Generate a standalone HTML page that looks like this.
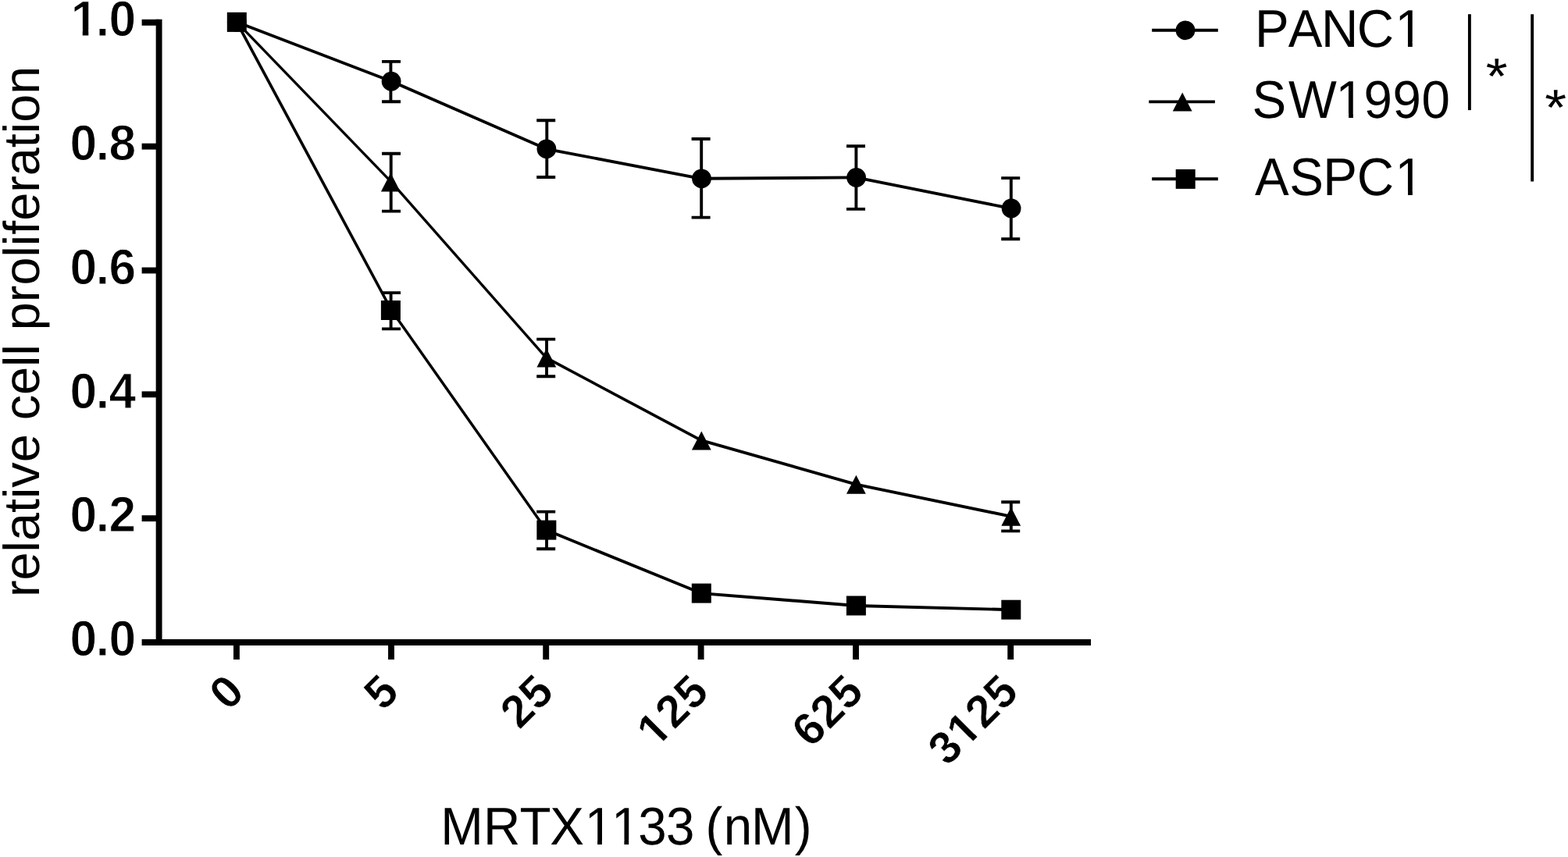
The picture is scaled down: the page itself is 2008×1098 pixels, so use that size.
<!DOCTYPE html>
<html lang="en"><head><meta charset="utf-8"><title>MRTX1133 relative cell proliferation</title>
<style>
html,body{margin:0;padding:0;background:#fff;}
body{width:2008px;height:1098px;overflow:hidden;}
svg{display:block;}
text{font-family:"Liberation Sans",sans-serif;fill:#000;font-kerning:none;font-variant-ligatures:none;white-space:pre;text-rendering:geometricPrecision;}
.tk{font-weight:bold;stroke:#fff;stroke-width:1px;stroke-linejoin:round;}
.tx{font-weight:bold;stroke:#fff;stroke-width:0.6px;stroke-linejoin:round;}
.lb{font-weight:normal;}
</style></head><body>
<svg width="2008" height="1098" viewBox="0 0 2008 1098" role="img" aria-label="Relative cell proliferation versus MRTX1133 concentration">
<rect width="2008" height="1098" fill="#fff"/>

<g stroke="#000" stroke-width="7.9" fill="none" stroke-linecap="butt">
<line x1="203.6" y1="24.85" x2="203.6" y2="826.95"/>
<line x1="181.6" y1="823.0" x2="1397" y2="823.0"/>
<line x1="181.6" y1="28.80" x2="203.6" y2="28.80"/>
<line x1="181.6" y1="187.64" x2="203.6" y2="187.64"/>
<line x1="181.6" y1="346.48" x2="203.6" y2="346.48"/>
<line x1="181.6" y1="505.32" x2="203.6" y2="505.32"/>
<line x1="181.6" y1="664.16" x2="203.6" y2="664.16"/>
<line x1="302.9" y1="823.0" x2="302.9" y2="845"/>
<line x1="501.0" y1="823.0" x2="501.0" y2="845"/>
<line x1="699.2" y1="823.0" x2="699.2" y2="845"/>
<line x1="897.6" y1="823.0" x2="897.6" y2="845"/>
<line x1="1096.0" y1="823.0" x2="1096.0" y2="845"/>
<line x1="1294.2" y1="823.0" x2="1294.2" y2="845"/>
</g>
<g transform="translate(172.80,46.00) scale(1,1.03)"><text class="tk" x="-82.11 -50.04 -33.37" y="0" style="font-size:62.3px">1.0</text><g fill="#fff"><rect x="-79.68" y="-7.06" width="12.62" height="8.56"/><rect x="-59.52" y="-7.06" width="11.83" height="8.56"/></g></g>
<g transform="translate(172.80,204.84) scale(1,1.03)"><text class="tk" x="-83.41 -50.04 -33.37" y="0" style="font-size:62.3px">0.8</text></g>
<g transform="translate(172.80,363.68) scale(1,1.03)"><text class="tk" x="-83.41 -50.04 -33.37" y="0" style="font-size:62.3px">0.6</text></g>
<g transform="translate(172.80,522.52) scale(1,1.03)"><text class="tk" x="-83.41 -50.04 -33.37" y="0" style="font-size:62.3px">0.4</text></g>
<g transform="translate(172.80,681.36) scale(1,1.03)"><text class="tk" x="-83.41 -50.04 -33.37" y="0" style="font-size:62.3px">0.2</text></g>
<g transform="translate(172.80,840.20) scale(1,1.03)"><text class="tk" x="-83.41 -50.04 -33.37" y="0" style="font-size:62.3px">0.0</text></g>
<g transform="translate(316.10,888.60) rotate(-45)"><text class="tx" x="-33.37" y="0" style="font-size:58.4px">0</text></g>
<g transform="translate(514.20,888.60) rotate(-45)"><text class="tx" x="-33.37" y="0" style="font-size:58.4px">5</text></g>
<g transform="translate(712.40,888.60) rotate(-45)"><text class="tx" x="-66.74 -33.37" y="0" style="font-size:58.4px">25</text></g>
<g transform="translate(910.80,888.60) rotate(-45)"><text class="tx" x="-100.11 -66.74 -33.37" y="0" style="font-size:58.4px">125</text><g fill="#fff"><rect x="-97.93" y="-6.66" width="11.75" height="8.16"/><rect x="-78.76" y="-6.66" width="11.01" height="8.16"/></g></g>
<g transform="translate(1109.20,888.60) rotate(-45)"><text class="tx" x="-100.11 -66.74 -33.37" y="0" style="font-size:58.4px">625</text></g>
<g transform="translate(1307.40,888.60) rotate(-45)"><text class="tx" x="-133.48 -100.11 -66.74 -33.37" y="0" style="font-size:58.4px">3125</text><g fill="#fff"><rect x="-97.93" y="-6.66" width="11.75" height="8.16"/><rect x="-78.76" y="-6.66" width="11.01" height="8.16"/></g></g>
<g transform="translate(564.22,1082.00) scale(1,1.04)"><text class="lb" x="0.00 54.81 101.19 140.14 184.42 218.72 253.01 288.76 324.09 339.24 362.52 397.90 453.51" y="0" style="font-size:65.5px">MRTX1133 (nM)</text><g fill="#fff"><rect x="187.90" y="-5.59" width="12.98" height="7.09"/><rect x="206.68" y="-5.59" width="12.47" height="7.09"/><rect x="222.20" y="-5.59" width="12.98" height="7.09"/><rect x="240.98" y="-5.59" width="12.47" height="7.09"/></g></g>
<g transform="translate(50.00,765.00) rotate(-90)"><text class="lb" x="0.00 21.56 57.57 71.96 107.97 125.96 140.34 172.72 208.73 226.72 259.09 295.11 309.49 323.88 341.87 377.88 399.44 435.45 449.84 464.22 482.21 518.22 539.78 575.79 593.78 608.17 644.18" y="0" style="font-size:64.75px">relative cell proliferation</text></g>
<g stroke="#000" stroke-width="3.9" fill="none">
<line x1="303.20" y1="28.30" x2="501.30" y2="104.20" stroke-width="3.76"/>
<line x1="501.30" y1="104.20" x2="699.50" y2="190.80" stroke-width="3.72"/>
<line x1="699.50" y1="190.80" x2="897.90" y2="228.80" stroke-width="3.86"/>
<line x1="897.90" y1="228.80" x2="1096.30" y2="227.40" stroke-width="3.90"/>
<line x1="1096.30" y1="227.40" x2="1294.50" y2="267.00" stroke-width="3.86"/>
<path d="M500.40,78.9V130.2M489.00,78.9H513.00M489.00,130.2H513.00"/>
<path d="M700.30,154.25V227.0M687.20,154.25H711.20M687.20,227.0H711.20"/>
<path d="M898.20,178.0V278.6M885.60,178.0H909.60M885.60,278.6H909.60"/>
<path d="M1096.40,187.2V267.9M1084.00,187.2H1108.00M1084.00,267.9H1108.00"/>
<path d="M1294.80,228.15V306.2M1282.20,228.15H1306.20M1282.20,306.2H1306.20"/>
</g><g fill="#000">
<circle cx="303.30" cy="28.30" r="12.4"/>
<circle cx="501.10" cy="104.20" r="12.4"/>
<circle cx="699.90" cy="190.80" r="12.4"/>
<circle cx="898.50" cy="228.80" r="12.4"/>
<circle cx="1096.60" cy="227.40" r="12.4"/>
<circle cx="1295.10" cy="267.00" r="12.4"/>
</g>
<g stroke="#000" stroke-width="3.9" fill="none">
<line x1="303.20" y1="28.30" x2="501.30" y2="233.40" stroke-width="3.30"/>
<line x1="501.30" y1="233.40" x2="699.50" y2="458.40" stroke-width="3.36"/>
<line x1="699.50" y1="458.40" x2="897.90" y2="564.20" stroke-width="3.65"/>
<line x1="897.90" y1="564.20" x2="1096.30" y2="620.60" stroke-width="3.82"/>
<line x1="1096.30" y1="620.60" x2="1294.50" y2="661.60" stroke-width="3.86"/>
<path d="M500.70,196.8V270.6M489.00,196.8H513.00M489.00,270.6H513.00"/>
<path d="M700.05,434.6V482.2M687.20,434.6H711.20M687.20,482.2H711.20"/>
<path d="M1294.80,643.2V680.4M1282.20,643.2H1306.20M1282.20,680.4H1306.20"/>
</g><g fill="#000">
<polygon points="303.30,16.50 315.70,40.50 290.90,40.50"/>
<polygon points="500.30,221.60 512.70,245.60 487.90,245.60"/>
<polygon points="699.85,446.60 712.25,470.60 687.45,470.60"/>
<polygon points="898.30,552.40 910.70,576.40 885.90,576.40"/>
<polygon points="1096.40,608.80 1108.80,632.80 1084.00,632.80"/>
<polygon points="1294.75,649.80 1307.15,673.80 1282.35,673.80"/>
</g>
<g stroke="#000" stroke-width="3.9" fill="none">
<line x1="303.20" y1="28.30" x2="501.30" y2="397.50" stroke-width="3.65"/>
<line x1="501.30" y1="397.50" x2="699.50" y2="679.10" stroke-width="3.51"/>
<line x1="699.50" y1="679.10" x2="897.90" y2="760.10" stroke-width="3.74"/>
<line x1="897.90" y1="760.10" x2="1096.30" y2="776.00" stroke-width="3.89"/>
<line x1="1096.30" y1="776.00" x2="1294.50" y2="781.20" stroke-width="3.90"/>
<path d="M500.60,375.1V421.4M489.00,375.1H513.00M489.00,421.4H513.00"/>
<path d="M700.05,655.65V703.25M687.20,655.65H711.20M687.20,703.25H711.20"/>
</g><g fill="#000">
<rect x="290.80" y="15.80" width="25" height="25"/>
<rect x="487.90" y="385.00" width="25" height="25"/>
<rect x="687.35" y="666.60" width="25" height="25"/>
<rect x="885.80" y="747.60" width="25" height="25"/>
<rect x="1083.90" y="763.50" width="25" height="25"/>
<rect x="1282.30" y="768.70" width="25" height="25"/>
</g>
<g stroke="#000" stroke-width="3.9" fill="none">
<line x1="1475.2" y1="38.8" x2="1559.8" y2="38.8"/>
<line x1="1471.3" y1="130.4" x2="1555.9" y2="130.4"/>
<line x1="1475.2" y1="229.2" x2="1559.8" y2="229.2"/>
<line x1="1881.9" y1="18.2" x2="1881.9" y2="141.1"/>
<line x1="1962.2" y1="18.2" x2="1962.2" y2="232.6"/>
</g><g fill="#000">
<circle cx="1518.00" cy="38.80" r="12.4"/>
<polygon points="1514.20,118.60 1526.60,142.60 1501.80,142.60"/>
<rect x="1505.70" y="216.90" width="25" height="25"/>
</g>
<g transform="translate(1606.95,59.50) scale(1,1.04)"><text class="lb" x="0.00 42.76 85.09 130.69 179.54" y="0" style="font-size:65.5px">PANC1</text><g fill="#fff"><rect x="183.03" y="-5.59" width="12.98" height="7.09"/><rect x="201.80" y="-5.59" width="12.47" height="7.09"/></g></g>
<g transform="translate(1603.42,150.80) scale(1,1.04)"><text class="lb" x="0.00 46.59 107.21 143.18 180.08 217.11" y="0" style="font-size:65.5px">SW1990</text><g fill="#fff"><rect x="110.70" y="-5.59" width="12.98" height="7.09"/><rect x="129.47" y="-5.59" width="12.47" height="7.09"/></g></g>
<g transform="translate(1607.11,250.10) scale(1,1.04)"><text class="lb" x="0.00 44.07 87.24 130.58 179.48" y="0" style="font-size:65.5px">ASPC1</text><g fill="#fff"><rect x="182.97" y="-5.59" width="12.98" height="7.09"/><rect x="201.74" y="-5.59" width="12.47" height="7.09"/></g></g>
<g transform="translate(1916.70,119.80) scale(1,0.91)"><text class="lb" x="-13.91" y="0" style="font-size:71.5px">*</text></g>
<g transform="translate(1992.10,159.60) scale(1,0.91)"><text class="lb" x="-13.91" y="0" style="font-size:71.5px">*</text></g>
</svg></body></html>
